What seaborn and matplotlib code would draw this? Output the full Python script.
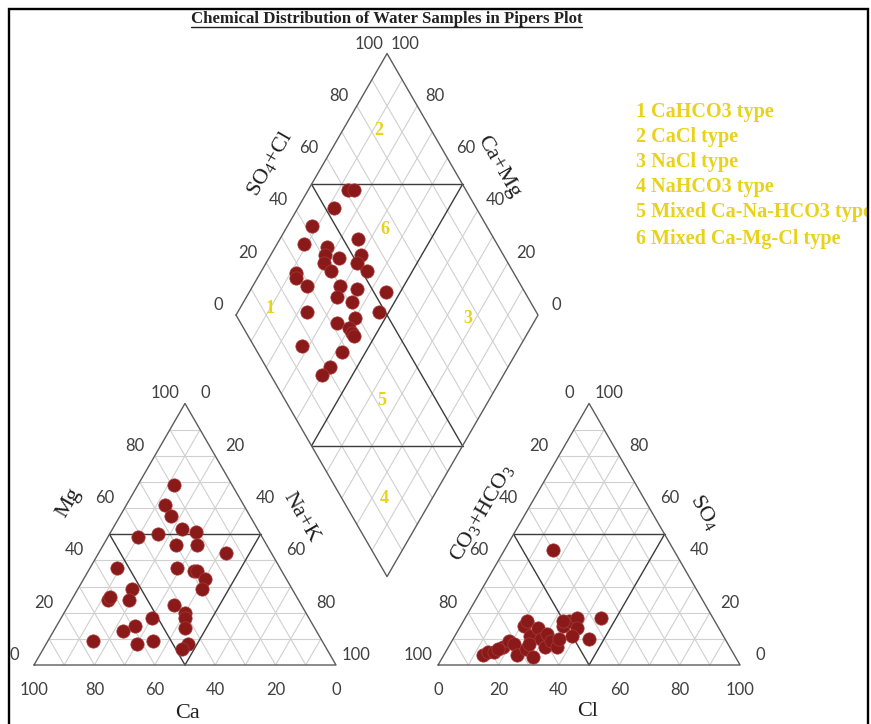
import numpy as np
import pandas as pd
import matplotlib
matplotlib.use("Agg")
import matplotlib.pyplot as plt
import seaborn as sns
from matplotlib.patches import Rectangle
from matplotlib.lines import Line2D

# ---------------- data (percent) ----------------
cation_ca = [19, 26, 26, 25, 21, 41, 34, 30, 23, 15, 54, 34, 29, 28, 27, 30,
             53, 63, 56, 42, 40, 41, 52, 59, 64, 43, 76, 62, 56, 45, 48, 62]
cation_mg = [69, 61, 57, 52, 51, 49, 50, 46, 46, 43, 37, 37, 36, 36, 33, 29,
             29, 25, 25, 23, 20, 18, 18, 15, 13, 14, 9, 8, 9, 8, 6, 26]
cation_nak = [12, 13, 17, 23, 28, 10, 16, 24, 31, 42, 9, 29, 35, 36, 40, 41,
              18, 12, 19, 35, 40, 41, 30, 26, 23, 43, 15, 30, 35, 47, 46, 12]

anion_cl = [13, 14, 16, 18, 19, 21, 24, 26, 30, 21, 21, 25, 26, 29, 30, 32,
            33, 36, 35, 34, 35, 37, 39, 39, 45, 45, 16, 17, 33, 26]
anion_so4 = [4, 5, 5, 7, 9, 8, 4, 6, 3, 15, 17, 11, 14, 10, 12, 7,
             9, 7, 10, 15, 17, 18, 14, 11, 10, 18, 44, 6, 17, 8]
anion_hco3 = [83, 81, 79, 75, 72, 71, 72, 68, 67, 64, 62, 64, 60, 61, 58, 61,
              58, 57, 55, 51, 48, 45, 47, 50, 45, 37, 40, 77, 50, 66]

diamond_nak = [13, 15, 12, 8, 9, 17, 26, 18, 19, 23, 30, 30, 35, 23, 12, 13, 18,
               29, 30, 35, 45, 36, 23, 47, 40, 35, 40, 42, 43, 28, 42, 41, 40]
diamond_so4cl = [61, 63, 53, 42, 36, 43, 55, 41, 39, 45, 53, 50, 52, 40, 28, 27, 29,
                 40, 37, 45, 54, 41, 24, 48, 39, 32, 35, 35, 35, 16, 28, 21, 17]

tick_values = [0, 20, 40, 60, 80, 100]
zone_numbers = ["1", "2", "3", "4", "5", "6"]
zone_names = ["1 CaHCO3 type", "2 CaCl type", "3 NaCl type", "4 NaHCO3 type",
              "5 Mixed Ca-Na-HCO3 type", "6 Mixed Ca-Mg-Cl type"]
title_text = "Chemical Distribution of Water Samples in Pipers Plot"

# ---------------- style ----------------
sns.set_theme(style="white")
plt.rcParams["mathtext.fontset"] = "custom"
plt.rcParams["mathtext.rm"] = "Liberation Serif"
plt.rcParams["mathtext.it"] = "Liberation Serif:italic"
plt.rcParams["mathtext.bf"] = "Liberation Serif:bold"

W, HPX = 871, 724
fig = plt.figure(figsize=(W / 100, HPX / 100), dpi=100)
fig.patch.set_facecolor("white")
ax = fig.add_axes([0, 0, 1, 1])
SC = 302.0            # pixels per unit side
X0, Y0 = 34.0, 665.0  # pixel position of the left triangle's bottom-left corner
ax.set_xlim(-X0 / SC, (W - X0) / SC)
ax.set_ylim((Y0 - HPX) / SC, Y0 / SC)
ax.axis("off")

H = np.sqrt(3) / 2
G = 0.338
OX = 1 + G
LX, LY = 1 + G / 2 - 0.5, G * H + H   # diamond left vertex


def cat_xy(ca, mg, na):
    t = ca + mg + na
    return na / t + mg / t / 2, mg / t * H


def an_xy(cl, so4, hco3):
    t = cl + so4 + hco3
    return OX + cl / t + so4 / t / 2, so4 / t * H


def dia_xy(na, s):
    na, s = na / 100.0, s / 100.0
    return LX + 0.5 * (na + s), LY + H * (s - na)


grid_kw = dict(color="#d0d0d0", lw=0.8, zorder=1, solid_capstyle="butt")
major_kw = dict(color="#3c3c3c", lw=1.0, zorder=2)
edge_kw = dict(color="#5c5c5c", lw=1.0, zorder=2)


def seg(p, q, kw):
    ax.plot([p[0], q[0]], [p[1], q[1]], **kw)


# grids of both triangles and the diamond
for f in range(10, 100, 10):
    kw = major_kw if f == 50 else grid_kw
    seg(cat_xy(100 - f, f, 0), cat_xy(0, f, 100 - f), kw)
    seg(cat_xy(100 - f, 0, f), cat_xy(0, 100 - f, f), kw)
    seg(cat_xy(f, 0, 100 - f), cat_xy(f, 100 - f, 0), kw)
    seg(an_xy(0, f, 100 - f), an_xy(100 - f, f, 0), kw)
    seg(an_xy(f, 0, 100 - f), an_xy(f, 100 - f, 0), kw)
    seg(an_xy(0, 100 - f, f), an_xy(100 - f, 0, f), kw)
    seg(dia_xy(f, 0), dia_xy(f, 100), kw)
    seg(dia_xy(0, f), dia_xy(100, f), kw)

seg(dia_xy(0, 50), dia_xy(50, 100), major_kw)
seg(dia_xy(50, 0), dia_xy(100, 50), major_kw)

for poly in ([cat_xy(100, 0, 0), cat_xy(0, 0, 100), cat_xy(0, 100, 0), cat_xy(100, 0, 0)],
             [an_xy(0, 0, 100), an_xy(100, 0, 0), an_xy(0, 100, 0), an_xy(0, 0, 100)],
             [dia_xy(0, 0), dia_xy(100, 0), dia_xy(100, 100), dia_xy(0, 100), dia_xy(0, 0)]):
    xs, ys = zip(*poly)
    ax.plot(xs, ys, **edge_kw)

# ---------------- tick labels ----------------
tick_kw = dict(textcoords="offset points", ha="center", va="center",
               fontsize=12, family="Lato", color="#404040")
PX = 0.72  # points per pixel
for v in tick_values:
    lab = str(v)
    ax.annotate(lab, cat_xy(v, 0, 100 - v), xytext=(0, -25 * PX), **tick_kw)
    ax.annotate(lab, cat_xy(100 - v, v, 0), xytext=(-20 * PX, 10 * PX), **tick_kw)
    ax.annotate(lab, cat_xy(0, 100 - v, v), xytext=(20 * PX, 10 * PX), **tick_kw)
    ax.annotate(lab, an_xy(v, 0, 100 - v), xytext=(0, -25 * PX), **tick_kw)
    ax.annotate(lab, an_xy(0, 100 - v, v), xytext=(-20 * PX, 10 * PX), **tick_kw)
    ax.annotate(lab, an_xy(100 - v, v, 0), xytext=(20 * PX, 10 * PX), **tick_kw)
    ax.annotate(lab, dia_xy(0, v), xytext=(-18 * PX, 10 * PX), **tick_kw)
    ax.annotate(lab, dia_xy(100 - v, 100), xytext=(18 * PX, 10 * PX), **tick_kw)

# ---------------- axis titles ----------------
lab_kw = dict(textcoords="offset points", ha="center", va="center",
              fontsize=16, family="Liberation Serif", color="#1e1e1e")
ax.annotate("Mg", cat_xy(50, 50, 0), xytext=(-41 * PX, 31 * PX), rotation=60, **lab_kw)
ax.annotate("Na+K", cat_xy(0, 50, 50), xytext=(40 * PX, 17 * PX), rotation=-60, **lab_kw)
ax.annotate("Ca", cat_xy(50, 0, 50), xytext=(2 * PX, -48 * PX), **lab_kw)
ax.annotate("CO$_3$+HCO$_3$", an_xy(0, 50, 50), xytext=(-32 * PX, 21 * PX), rotation=60, **lab_kw)
ax.annotate("SO$_4$", an_xy(50, 50, 0), xytext=(40 * PX, 22 * PX), rotation=-60, **lab_kw)
ax.annotate("Cl", an_xy(50, 0, 50), xytext=(-1 * PX, -47 * PX), **lab_kw)
ax.annotate("SO$_4$+Cl", dia_xy(0, 50), xytext=(-42 * PX, 21 * PX), rotation=60, **lab_kw)
ax.annotate("Ca+Mg", dia_xy(50, 100), xytext=(36 * PX, 17 * PX), rotation=-60, **lab_kw)

# ---------------- zone numbers ----------------
YEL = "#e8d21a"
zone_pos = [(10, 12.6), (12, 82.7), (77.4, 76.2), (84, 14), (64.6, 32.1), (32.9, 65.8)]
for num, (na, s) in zip(zone_numbers, zone_pos):
    ax.text(*dia_xy(na, s), num, ha="center", va="center", fontsize=13,
            family="Liberation Serif", fontweight="bold", color=YEL, zorder=3)

# ---------------- points ----------------
rows = []
for ca, mg, na in zip(cation_ca, cation_mg, cation_nak):
    x, y = cat_xy(ca, mg, na)
    rows.append(("cation", x, y))
for cl, so4, hc in zip(anion_cl, anion_so4, anion_hco3):
    x, y = an_xy(cl, so4, hc)
    rows.append(("anion", x, y))
for na, s in zip(diamond_nak, diamond_so4cl):
    x, y = dia_xy(na, s)
    rows.append(("diamond", x, y))
pts = pd.DataFrame(rows, columns=["panel", "x", "y"])
sns.scatterplot(data=pts, x="x", y="y", ax=ax, color="#8a1a1a", s=92,
                edgecolor="#a83a3a", linewidth=0.5, legend=False, zorder=5)
ax.set_xlim(-X0 / SC, (W - X0) / SC)
ax.set_ylim((Y0 - HPX) / SC, Y0 / SC)
ax.axis("off")

# ---------------- legend text ----------------
leg_y = [112, 137, 162, 187, 212, 239]
for name, yy in zip(zone_names, leg_y):
    fig.text(636 / W, 1 - yy / HPX, name, ha="left", va="center", fontsize=14.5,
             family="Liberation Serif", fontweight="bold", color=YEL, zorder=3)

# ---------------- title with underline ----------------
t = fig.text(386.5 / W, 1 - 19 / HPX, title_text, ha="center", va="center",
             fontsize=12.1, family="Liberation Serif", fontweight="bold", color="#222222")
fig.canvas.draw()
bb = t.get_window_extent()
uy = bb.y0 + 0.5
fig.add_artist(Line2D([bb.x0 / W, bb.x1 / W], [uy / HPX, uy / HPX],
                      transform=fig.transFigure, color="#222222", lw=1.0))

# ---------------- frame ----------------
fig.add_artist(Rectangle((868.5 / W, 0), 3 / W, 1, transform=fig.transFigure,
                         facecolor="white", edgecolor="none", zorder=9))
fig.add_artist(Rectangle((8.5 / W, -0.1), (867.5 - 8.5) / W, (HPX - 9.5) / HPX + 0.1,
                         transform=fig.transFigure, fill=False, edgecolor="black",
                         lw=1.7, zorder=10))

fig.savefig("out.png", dpi=100)
